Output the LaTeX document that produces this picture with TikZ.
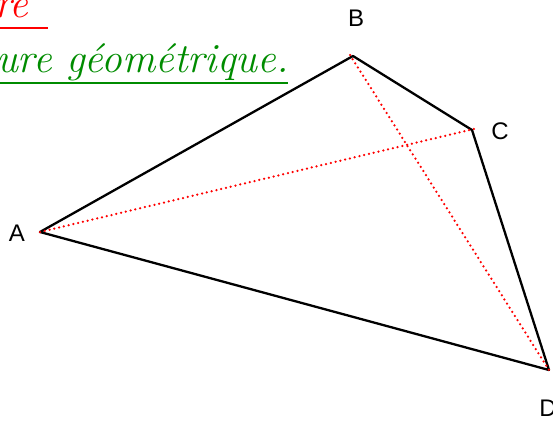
\documentclass[tikz,border=0pt]{standalone}
\usepackage{fontspec}
\setsansfont{Liberation Sans}
\begin{document}
\begin{tikzpicture}[x=1pt,y=-1pt,
  side/.style={line width=2.3pt,line cap=round,line join=round},
  diag/.style={red,line width=2.5pt,line cap=round,dash pattern=on 0pt off 4.9pt},
  vlabel/.style={font=\sffamily\fontsize{24}{24}\selectfont,inner sep=0pt},
  title/.style={inner sep=0pt,anchor=base west,font=\itshape\fontsize{41.5}{41.5}\selectfont}]
\useasboundingbox (0,0) rectangle (553,420);
\coordinate (A) at (40,232);
\coordinate (B) at (353,56);
\coordinate (C) at (472,130);
\coordinate (D) at (549,370);
\coordinate (B1) at (350,55);
\coordinate (C1) at (478,128);
\draw[side] (A) -- (B) -- (C) -- (D) -- cycle;
\draw[diag] (A) -- (C1);
\draw[diag] (B1) -- (D);
\node[vlabel] (lA) at (17,233) {A};
\node[vlabel] (lB) at (356,18) {B};
\node[vlabel] (lC) at (500,131) {C};
\node[vlabel] (lD) at (548,408) {D};
\node[title,text=red] (t1) at (-6,18) {re};
\draw[red,line width=2pt] (0,28) -- (48,28);
\node[title,text=green!55!black] (t2) at (-4,72) {ure géométrique.};
\draw[green!55!black,line width=2pt] (0,83) -- (288,83);
\end{tikzpicture}
\end{document}
